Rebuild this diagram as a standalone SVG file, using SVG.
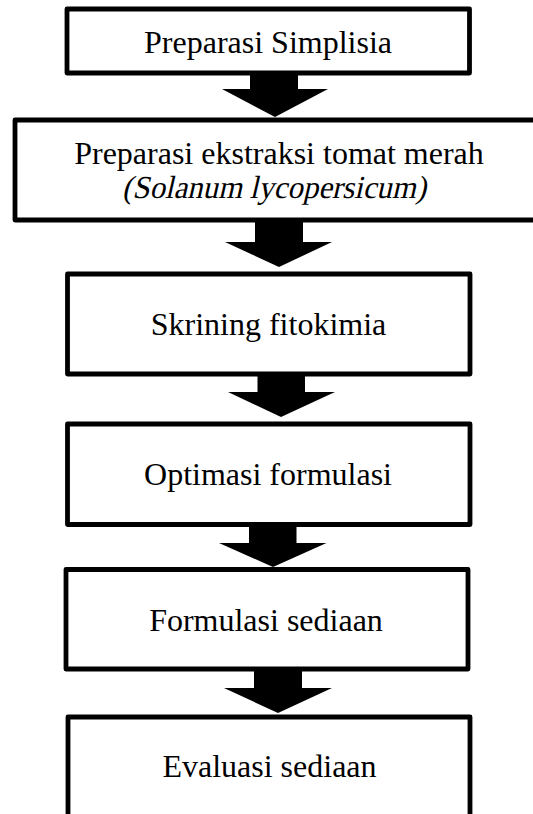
<svg xmlns="http://www.w3.org/2000/svg" width="533" height="814" viewBox="0 0 533 814">
<style>
.box{fill:#fff;stroke:#000;stroke-width:4.8;stroke-linejoin:round}
.arr{fill:#000;stroke:none}
.t{font-family:"Liberation Serif","Times New Roman",serif;font-size:32px;fill:#000;text-anchor:middle}
</style>
<rect width="533" height="814" fill="#fff"/>
<g id="n1"><rect class="box" x="67" y="9" width="402.5" height="64"/><text class="t" x="268" y="53">Preparasi Simplisia</text></g>
<g id="n2"><rect class="box" x="15" y="120" width="540" height="100"/><text class="t" x="279" y="164">Preparasi ekstraksi tomat merah</text><text class="t" transform="translate(274,198) skewX(-13)" x="0" y="0" textLength="304" lengthAdjust="spacingAndGlyphs">(Solanum lycopersicum)</text></g>
<g id="n3"><rect class="box" x="67.5" y="274" width="402.5" height="100"/><text class="t" x="268.5" y="335">Skrining fitokimia</text></g>
<g id="n4"><rect class="box" x="67.5" y="424" width="402.5" height="100.5"/><text class="t" x="268" y="485">Optimasi formulasi</text></g>
<g id="n5"><rect class="box" x="66" y="569.5" width="402" height="99.5"/><text class="t" x="266" y="631">Formulasi sediaan</text></g>
<g id="n6"><rect class="box" x="68" y="717" width="402" height="120"/><text class="t" x="269.5" y="777">Evaluasi sediaan</text></g>
<g id="connectors">
<polygon class="arr" points="250,73 298,73 298,89 328,89 275,117 222,89 250,89"/>
<polygon class="arr" points="255,220 303,220 303,242 332,242 279,267 225,242 255,242"/>
<polygon class="arr" points="257.5,374 305,374 305,392 335,392 281,417 228,392 257.5,392"/>
<polygon class="arr" points="249,524.5 296.5,524.5 296.5,543 326.5,543 273,567 219,543 249,543"/>
<polygon class="arr" points="254,669 302,669 302,688 332,688 278,713 224,688 254,688"/>
</g>
</svg>
